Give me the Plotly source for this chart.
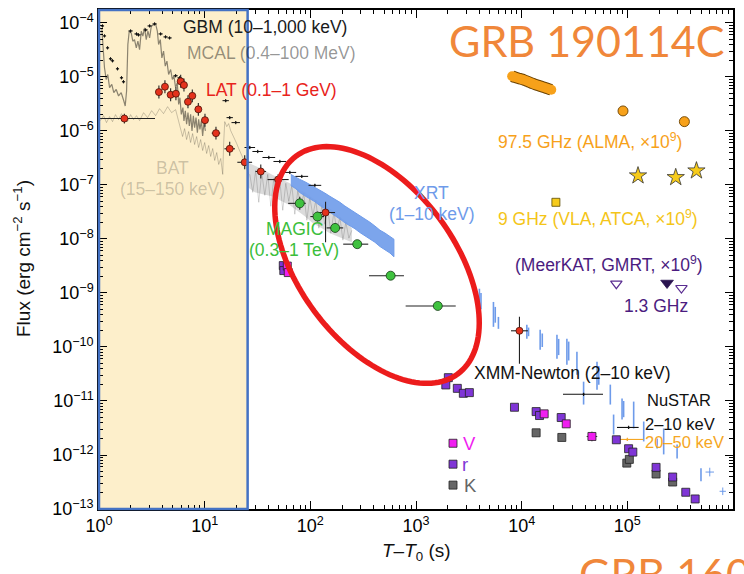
import numpy as np
import plotly.graph_objects as go

# ---------------------------------------------------------------------------
# Data (log10 of time in s and log10 of flux in erg cm^-2 s^-1)
# ---------------------------------------------------------------------------
# Fermi-GBM (10-1,000 keV) binned fluxes
gbm_lt = [0.033, 0.052, 0.081, 0.109, 0.128, 0.175, 0.213, 0.232, 0.299, 0.355,
          0.374, 0.441, 0.479, 0.526, 0.583, 0.630, 0.668, 0.725, 0.763, 1.199,
          1.237, 1.294, 1.427, 1.502, 1.607, 1.711, 1.806, 1.919, 2.043]
gbm_lf = [-4.055, -4.240, -4.461, -4.664, -4.701, -4.849, -5.015, -5.089, -4.148, -4.203,
          -4.221, -4.129, -4.055, -4.018, -4.203, -4.258, -4.277, -4.978, -5.015, -5.439,
          -5.753, -5.845, -6.306, -6.380, -6.491, -6.565, -6.768, -6.841, -7.007]
gbm_dt = [0.015] * 8 + [0.02] * 11 + [0.03, 0.03, 0.04, 0.05, 0.05, 0.06, 0.06, 0.06, 0.06, 0.06]

# AGILE-MCAL (0.4-100 MeV) light curve
mcal_lt = [0.027, 0.036, 0.052, 0.068, 0.083, 0.100, 0.121, 0.140, 0.163, 0.185,
           0.210, 0.235, 0.248, 0.261, 0.273, 0.286, 0.305, 0.320, 0.336, 0.353,
           0.368, 0.384, 0.400, 0.415, 0.431, 0.447, 0.463, 0.479, 0.495, 0.517,
           0.536, 0.552, 0.564, 0.580, 0.595, 0.611, 0.627, 0.643, 0.659, 0.678,
           0.694, 0.709, 0.725, 0.741, 0.754, 0.766, 0.779, 0.794, 0.804, 0.817,
           0.829, 0.842, 0.855, 0.867, 0.880, 0.893, 0.905, 0.918, 0.931, 0.943,
           0.955, 0.969, 0.981, 0.993, 1.007]
mcal_lf = [-4.105, -4.461, -4.830, -5.046, -4.954, -5.199, -5.138, -5.292, -5.231, -5.352,
           -5.292, -5.445, -5.537, -5.260, -4.400, -4.153, -4.185, -4.338, -4.308, -4.461,
           -4.338, -4.493, -4.153, -4.245, -4.092, -4.308, -4.153, -4.277, -4.061, -4.031,
           -4.018, -4.153, -4.400, -4.308, -4.646, -4.522, -4.799, -4.707, -4.954, -4.862,
           -5.046, -4.983, -5.199, -5.107, -5.507, -5.384, -5.692, -5.568, -5.814, -5.629,
           -5.876, -5.661, -5.906, -5.692, -5.998, -5.721, -5.937, -5.753, -6.030, -5.784,
           -5.969, -5.814, -6.090, -5.845, -5.998]

# Swift-BAT (15-150 keV) light curve
bat_lt = [0.014, 0.043, 0.071, 0.100, 0.128, 0.156, 0.185, 0.213, 0.242, 0.270,
          0.299, 0.327, 0.355, 0.384, 0.422, 0.460, 0.498, 0.536, 0.573, 0.611,
          0.649, 0.687, 0.725, 0.754, 0.773,
          0.791, 0.810, 0.829, 0.848, 0.867, 0.886, 0.905, 0.924, 0.943, 0.962,
          0.981, 1.000, 1.019, 1.038, 1.057, 1.076, 1.095, 1.114, 1.133, 1.152,
          1.161, 1.171, 1.180, 1.190, 1.209, 1.227, 1.246, 1.265, 1.284, 1.303,
          1.322, 1.341, 1.360, 1.379, 1.398, 1.417]
bat_lf = [-5.808, -5.716, -5.845, -5.734, -5.827, -5.697, -5.790, -5.679, -5.771, -5.827,
          -5.697, -5.790, -5.716, -5.808, -5.661, -5.753, -5.624, -5.716, -5.587, -5.679,
          -5.550, -5.661, -5.605, -5.808, -5.974,
          -6.103, -5.956, -6.159, -6.011, -6.214, -6.048, -6.251, -6.103, -6.306, -6.159,
          -6.362, -6.214, -6.417, -6.269, -6.472, -6.325, -6.546, -6.399, -6.620, -6.509,
          -6.731, -6.804, -6.214, -5.827, -5.919, -5.863, -5.993, -6.066, -6.159, -6.232,
          -6.325, -6.399, -6.491, -6.583, -6.694, -6.804]

# BAT after ~25 s: envelope of the noisy curve and its scatter
batband_lt = [1.408, 1.474, 1.550, 1.635, 1.711, 1.806, 1.872, 1.948, 2.024, 2.109,
              2.185, 2.261, 2.346, 2.393]
batband_hi = [-6.583, -6.638, -6.712, -6.804, -6.878, -6.970, -7.063, -7.137, -7.247, -7.339,
              -7.432, -7.561, -7.690, -7.801]
batband_lo = [-7.044, -7.137, -7.173, -7.210, -7.284, -7.376, -7.469, -7.579, -7.708, -7.801,
              -7.893, -7.948, -8.022, -8.059]
batnoise_lt = [1.427, 1.455, 1.483, 1.512, 1.540, 1.569, 1.597, 1.626, 1.654, 1.682,
               1.711, 1.739, 1.768, 1.796, 1.825, 1.853, 1.882, 1.910, 1.938, 1.967,
               1.995, 2.024, 2.052, 2.081, 2.109, 2.137, 2.166, 2.194, 2.223, 2.251,
               2.280, 2.308, 2.336, 2.365, 2.393]
batnoise_lf = [-6.804, -7.137, -6.731, -7.321, -6.768, -7.192, -6.804, -7.395, -6.878, -7.247,
               -6.915, -7.469, -6.970, -7.303, -7.007, -7.542, -7.100, -7.413, -7.155, -7.653,
               -7.229, -7.561, -7.284, -7.801, -7.376, -7.727, -7.450, -7.893, -7.506, -7.838,
               -7.598, -8.022, -7.690, -7.985, -7.838]

# Swift-XRT (1-10 keV): first orbit envelope
xrt_lt = [1.815, 1.863, 1.900, 1.948, 1.995, 2.043, 2.090, 2.137, 2.185, 2.232, 2.280,
          2.327, 2.374, 2.422, 2.469, 2.517, 2.564, 2.611, 2.659, 2.706, 2.754, 2.791]
xrt_hi = [-6.804, -6.860, -6.897, -6.940, -6.989, -7.040, -7.100, -7.150, -7.210, -7.260, -7.321,
          -7.390, -7.450, -7.500, -7.561, -7.630, -7.690, -7.760, -7.838, -7.890, -7.948, -8.004]
xrt_lo = [-7.010, -7.070, -7.140, -7.200, -7.260, -7.310, -7.380, -7.440, -7.510, -7.570, -7.630,
          -7.700, -7.760, -7.810, -7.880, -7.950, -8.000, -8.060, -8.140, -8.200, -8.260, -8.330]
# later XRT orbits (time, upper and lower flux of each bunch)
xrtl_t = [3.600, 3.615, 3.733, 3.750, 3.780, 4.049, 4.065, 4.175, 4.195, 4.334, 4.350,
          4.428, 4.445, 4.523, 4.586, 4.713, 4.730, 4.839, 4.870, 4.950, 4.965, 5.060,
          5.155, 5.282, 5.344, 5.471, 5.697]
xrtl_hi = [-8.921, -9.000, -9.166, -9.258, -9.443, -9.590, -9.640, -9.683, -9.750, -9.775, -9.850,
           -9.849, -9.900, -10.089, -10.642, -10.273, -10.350, -10.697, -11.251, -10.956, -11.000,
           -11.011, -11.380, -11.694, -11.509, -11.804, -12.247]
xrtl_lo = [-9.351, -9.300, -9.627, -9.550, -9.664, -9.849, -9.800, -10.052, -10.000, -10.218, -10.150,
           -10.328, -10.250, -10.513, -11.066, -10.790, -10.700, -11.066, -11.620, -11.343, -11.300,
           -11.509, -11.749, -11.878, -11.989, -12.063, -12.487]
xrtx_t = [5.780, 5.903]
xrtx_f = [-12.316, -12.672]

# Fermi-LAT (0.1-1 GeV)
lat_lt = [0.240, 0.567, 0.624, 0.678, 0.728, 0.773, 0.804, 0.842, 0.883, 0.940,
          1.003, 1.107, 1.237, 1.379, 1.531, 1.695, 2.144, 3.979]
lat_lf = [-5.77, -5.28, -5.18, -5.33, -5.31, -5.08, -5.15, -5.46, -5.35, -5.60,
          -5.80, -6.04, -6.33, -6.58, -6.75, -6.90, -7.51, -9.70]
lat_tlo = [0.24, 0.02, 0.02, 0.02, 0.02, 0.02, 0.02, 0.02, 0.02, 0.025,
           0.03, 0.04, 0.05, 0.07, 0.05, 0.10, 0.07, 0.08]
lat_thi = [0.29, 0.02, 0.02, 0.02, 0.02, 0.02, 0.02, 0.02, 0.02, 0.025,
           0.03, 0.04, 0.05, 0.07, 0.05, 0.10, 0.09, 0.08]
lat_flo = [0.09, 0.12, 0.12, 0.12, 0.12, 0.12, 0.12, 0.12, 0.12, 0.12,
           0.12, 0.12, 0.13, 0.13, 0.13, 0.10, 0.55, 0.61]
lat_fhi = [0.09, 0.12, 0.12, 0.12, 0.12, 0.12, 0.12, 0.12, 0.12, 0.12,
           0.12, 0.12, 0.13, 0.13, 0.13, 0.10, 0.20, 0.26]

# MAGIC (0.3-1 TeV)
magic_lt = [1.900, 2.068, 2.235, 2.444, 2.760, 3.206]
magic_lf = [-7.34, -7.585, -7.795, -8.096, -8.68, -9.24]
magic_tlo = [1.79, 2.00, 2.154, 2.311, 2.555, 2.902]
magic_thi = [1.957, 2.13, 2.311, 2.548, 2.886, 3.376]
magic_df = [0.12, 0.09, 0.08, 0.07, 0.07, 0.07]

# Optical / NIR photometry
v_lt = [1.782, 1.791, 4.213, 4.422, 4.665]
v_lf = [-8.502, -8.622, -11.238, -11.423, -11.657]
r_lt = [1.744, 1.749, 3.306, 3.282, 3.391, 3.448, 3.505, 3.932, 4.137, 4.169, 4.374,
        4.896, 5.012, 5.052, 5.272, 5.429, 5.553, 5.642]
r_lf = [-8.493, -8.585, -10.568, -10.703, -10.766, -10.858, -10.845, -11.116, -11.196, -11.269,
        -11.306, -11.718, -11.884, -11.946, -12.229, -12.408, -12.690, -12.814]
k_lt = [4.137, 4.380, 4.995, 5.019, 5.272, 5.429]
k_lf = [-11.589, -11.675, -12.150, -12.081, -12.352, -12.500]

# XMM-Newton and NuSTAR
xmm_lt, xmm_tlo, xmm_thi, xmm_lf = [4.586], [4.391], [4.770], [-10.876]
nus_lt, nus_tlo, nus_thi, nus_lf = [5.012], [4.902], [5.107], [-11.49]
nuh_lt, nuh_tlo, nuh_thi, nuh_lf = [5.000], [4.915], [5.152], [-11.712]

# Radio / mm (scaled by 1e9)
alma_lt = [3.910, 3.938, 3.967, 3.995, 4.024, 4.052, 4.081, 4.109, 4.137, 4.166,
           4.194, 4.223, 4.251, 4.280]
alma_lf = [-4.987, -5.006, -5.024, -5.039, -5.057, -5.079, -5.103, -5.125, -5.144, -5.162,
           -5.181, -5.199, -5.218, -5.236]
alma_late_lt, alma_late_lf = [4.959, 5.540], [-5.629, -5.827]
vla_lt, vla_lf = [4.324], [-7.321]
atca_lt, atca_lf = [5.101, 5.458, 5.654], [-6.828, -6.860, -6.736]
ghz13_open_lt, ghz13_open_lf = [4.896, 5.512], [-8.828, -8.908]
ghz13_fill_lt, ghz13_fill_lf = [5.376], [-8.815]

# ---------------------------------------------------------------------------
W, H = 744, 574
ML, MR, MT, MB = 99, 11, 8, 65
PW, PH = W - ML - MR, H - MT - MB
YMIN, YMAX = -13, -3.76
FONT = "Liberation Sans, Arial, sans-serif"


def lin(a):
    return 10 ** np.asarray(a, dtype=float)


def bounds_err(center, lo, hi):
    c = lin(center)
    return lin(hi) - c, c - lin(lo)


def dex_err(center, dm, dp):
    c = lin(center)
    return c * (10 ** np.asarray(dp, float) - 1), c * (1 - 10 ** -np.asarray(dm, float))


def pap(px, py):
    return (px - ML) / PW, 1 - (py - MT) / PH


fig = go.Figure()

# BAT curve
fig.add_trace(go.Scatter(x=lin(bat_lt), y=lin(bat_lf), mode="lines",
                         line=dict(color="rgba(0,0,0,0.2)", width=1)))
fig.add_trace(go.Scatter(x=np.concatenate([lin(batband_lt), lin(batband_lt)[::-1]]),
                         y=np.concatenate([lin(batband_hi), lin(batband_lo)[::-1]]),
                         mode="lines", fill="toself", fillcolor="rgba(0,0,0,0.14)",
                         line=dict(width=0)))
fig.add_trace(go.Scatter(x=lin(batnoise_lt), y=lin(batnoise_lf), mode="lines",
                         line=dict(color="rgba(0,0,0,0.16)", width=1)))
# MCAL curve
fig.add_trace(go.Scatter(x=lin(mcal_lt), y=lin(mcal_lf), mode="lines",
                         line=dict(color="rgba(0,0,0,0.45)", width=1.2)))
# XRT
XRT_C = "#6E9BEA"
fig.add_trace(go.Scatter(x=np.concatenate([lin(xrt_lt), lin(xrt_lt)[::-1]]),
                         y=np.concatenate([lin(xrt_hi), lin(xrt_lo)[::-1]]),
                         mode="lines", fill="toself", fillcolor="rgba(110,155,234,0.9)",
                         line=dict(color=XRT_C, width=1)))
seg_x, seg_y = [], []
for t, hi, lo in zip(xrtl_t, xrtl_hi, xrtl_lo):
    seg_x += [10 ** t, 10 ** t, None]
    seg_y += [10 ** hi, 10 ** lo, None]
fig.add_trace(go.Scatter(x=seg_x, y=seg_y, mode="lines", line=dict(color=XRT_C, width=1.6)))
ep, em = dex_err(xrtx_t, [0.04, 0.03], [0.04, 0.03])
fp, fm = dex_err(xrtx_f, [0.08, 0.07], [0.08, 0.07])
fig.add_trace(go.Scatter(x=lin(xrtx_t), y=lin(xrtx_f), mode="markers",
                         marker=dict(size=1, color=XRT_C),
                         error_x=dict(type="data", symmetric=False, array=ep, arrayminus=em,
                                      color=XRT_C, thickness=1, width=0),
                         error_y=dict(type="data", symmetric=False, array=fp, arrayminus=fm,
                                      color=XRT_C, thickness=1, width=0)))

# GBM
ep, em = dex_err(gbm_lt, gbm_dt, gbm_dt)
fp, fm = dex_err(gbm_lf, [0.03] * len(gbm_lf), [0.03] * len(gbm_lf))
fig.add_trace(go.Scatter(x=lin(gbm_lt), y=lin(gbm_lf), mode="markers",
                         marker=dict(size=2, color="#111"),
                         error_x=dict(type="data", symmetric=False, array=ep, arrayminus=em,
                                      color="#111", thickness=1, width=0),
                         error_y=dict(type="data", symmetric=False, array=fp, arrayminus=fm,
                                      color="#111", thickness=1, width=0)))

# LAT
ep, em = dex_err(lat_lt, lat_tlo, lat_thi)
fp, fm = dex_err(lat_lf, lat_flo, lat_fhi)
fig.add_trace(go.Scatter(x=lin(lat_lt), y=lin(lat_lf), mode="markers",
                         marker=dict(size=7, color="#E5321C", line=dict(color="#4a1208", width=0.8)),
                         error_x=dict(type="data", symmetric=False, array=ep, arrayminus=em,
                                      color="#222", thickness=1.1, width=0),
                         error_y=dict(type="data", symmetric=False, array=fp, arrayminus=fm,
                                      color="#222", thickness=1.1, width=0)))

# MAGIC
ep, em = bounds_err(magic_lt, magic_tlo, magic_thi)
fp, fm = dex_err(magic_lf, magic_df, magic_df)
fig.add_trace(go.Scatter(x=lin(magic_lt), y=lin(magic_lf), mode="markers",
                         marker=dict(size=9, color="#3FC23F", line=dict(color="#143a14", width=0.8)),
                         error_x=dict(type="data", symmetric=False, array=ep, arrayminus=em,
                                      color="#222", thickness=1.1, width=0),
                         error_y=dict(type="data", symmetric=False, array=fp, arrayminus=fm,
                                      color="#222", thickness=1.1, width=0)))

# XMM-Newton and NuSTAR
for lt, tlo, thi, lf, col in [(xmm_lt, xmm_tlo, xmm_thi, xmm_lf, "#111"),
                              (nus_lt, nus_tlo, nus_thi, nus_lf, "#111"),
                              (nuh_lt, nuh_tlo, nuh_thi, nuh_lf, "#F5A623")]:
    ep, em = bounds_err(lt, tlo, thi)
    fp, fm = dex_err(lf, [0.03], [0.03])
    fig.add_trace(go.Scatter(x=lin(lt), y=lin(lf), mode="markers",
                             marker=dict(size=2, color=col),
                             error_x=dict(type="data", symmetric=False, array=ep, arrayminus=em,
                                          color=col, thickness=1.1, width=0),
                             error_y=dict(type="data", symmetric=False, array=fp, arrayminus=fm,
                                          color=col, thickness=1.1, width=0)))

# Optical / NIR
V_C, R_C, K_C = "#F01EF0", "#7F35D6", "#666666"
fig.add_trace(go.Scatter(x=lin(k_lt), y=lin(k_lf), mode="markers",
                         marker=dict(symbol="square", size=8, color=K_C, line=dict(color="#222", width=0.8))))
fig.add_trace(go.Scatter(x=lin(r_lt), y=lin(r_lf), mode="markers",
                         marker=dict(symbol="square", size=8, color=R_C, line=dict(color="#222", width=0.8))))
vep, vem = dex_err(v_lt, [0, 0, 0, 0, 0.05], [0, 0, 0, 0, 0.05])
vfp, vfm = dex_err(v_lf, [0, 0, 0, 0.05, 0.09], [0, 0, 0, 0, 0.09])
fig.add_trace(go.Scatter(x=lin(v_lt), y=lin(v_lf), mode="markers",
                         marker=dict(symbol="square", size=8, color=V_C, line=dict(color="#222", width=0.8)),
                         error_x=dict(type="data", symmetric=False, array=vep, arrayminus=vem,
                                      color="#333", thickness=1, width=0),
                         error_y=dict(type="data", symmetric=False, array=vfp, arrayminus=vfm,
                                      color="#333", thickness=1, width=0)))

# Radio / mm
ALMA_C, VLA_C, MK_C = "#F7A11A", "#F6CB1B", "#5A2D91"
# dense early ALMA sampling drawn as a thick outlined track
fig.add_trace(go.Scatter(x=lin(alma_lt), y=lin(alma_lf), mode="lines",
                         line=dict(color="#6b4200", width=11.5, shape="spline")))
fig.add_trace(go.Scatter(x=lin(alma_lt), y=lin(alma_lf), mode="lines",
                         line=dict(color=ALMA_C, width=9.5, shape="spline")))
fig.add_trace(go.Scatter(x=lin([alma_lt[0], alma_lt[-1]]), y=lin([alma_lf[0], alma_lf[-1]]),
                         mode="markers", marker=dict(size=10, color=ALMA_C, line=dict(width=0))))
fig.add_trace(go.Scatter(x=lin(alma_late_lt), y=lin(alma_late_lf), mode="markers",
                         marker=dict(size=10, color=ALMA_C, line=dict(color="#6b4200", width=0.9))))
fig.add_trace(go.Scatter(x=lin(vla_lt), y=lin(vla_lf), mode="markers",
                         marker=dict(symbol="square", size=8, color=VLA_C, line=dict(color="#5a4a00", width=0.8))))
fig.add_trace(go.Scatter(x=lin(atca_lt), y=lin(atca_lf), mode="markers",
                         marker=dict(symbol="star", size=13, color=VLA_C, line=dict(color="#333", width=0.8))))
fig.add_trace(go.Scatter(x=lin(ghz13_open_lt), y=lin(ghz13_open_lf), mode="markers",
                         marker=dict(symbol="triangle-down", size=10, color="white",
                                     line=dict(color=MK_C, width=1.2))))
fig.add_trace(go.Scatter(x=lin(ghz13_fill_lt), y=lin(ghz13_fill_lf), mode="markers",
                         marker=dict(symbol="triangle-down", size=11, color="#2A1450",
                                     line=dict(color="#2A1450", width=0.8))))

# ---------------------------------------------------------------------------
# Prompt-phase window and the highlighted afterglow region
shapes = [
    dict(type="rect", xref="paper", yref="paper", x0=0, x1=np.log10(25.5) / 6, y0=0, y1=1,
         fillcolor="#FDEFCB", line=dict(width=0), layer="below"),
    dict(type="rect", xref="paper", yref="paper", x0=0, x1=np.log10(25.5) / 6, y0=0, y1=1,
         fillcolor="rgba(0,0,0,0)", line=dict(color="#4472C4", width=2.5), layer="above"),
]
tt = np.linspace(0, 2 * np.pi, 145)
cx, cy, ea, eb, th = 377, 264, 136, 78, np.deg2rad(53.6)
ex = cx + ea * np.cos(th) * np.cos(tt) - eb * np.sin(th) * np.sin(tt)
ey = cy + ea * np.sin(th) * np.cos(tt) + eb * np.cos(th) * np.sin(tt)
path = "M " + " L ".join(f"{(x - ML) / PW:.5f},{1 - (y - MT) / PH:.5f}" for x, y in zip(ex, ey)) + " Z"
shapes.append(dict(type="path", xref="paper", yref="paper", path=path,
                   line=dict(color="#EC1C1C", width=5.5), layer="above"))

# legend squares for the optical bands
for py, col in [(443, V_C), (464, R_C), (485, K_C)]:
    xa, ya = pap(453, py)
    shapes.append(dict(type="rect", xref="paper", yref="paper", xsizemode="pixel", ysizemode="pixel",
                       xanchor=xa, yanchor=ya, x0=-4, x1=4, y0=-4, y1=4,
                       fillcolor=col, line=dict(color="#222", width=0.8), layer="above"))

annotations = []


def label(text, px, py, color, size=17.5, anchor="left", family=FONT, angle=0):
    x, y = pap(px, py)
    annotations.append(dict(text=text, x=x, y=y, xref="paper", yref="paper", xanchor=anchor,
                            yanchor="middle", showarrow=False, textangle=angle,
                            font=dict(family=family, size=size, color=color)))


label("GBM (10–1,000 keV)", 181, 25, "#1a1a1a")
label("MCAL (0.4–100 MeV)", 185, 51, "rgba(0,0,0,0.42)")
label("LAT (0.1–1 GeV)", 204, 88, "#E8231B")
label("BAT", 172.5, 167, "rgba(0,0,0,0.2)", anchor="center")
label("(15–150 keV)", 172.5, 188, "rgba(0,0,0,0.2)", anchor="center")
label("XRT", 432, 192, XRT_C, anchor="center")
label("(1–10 keV)", 432, 213, XRT_C, anchor="center")
label("MAGIC", 294, 228, "#3BBE3B", anchor="center")
label("(0.3–1 TeV)", 294, 249, "#3BBE3B", anchor="center")
label("97.5 GHz (ALMA, ×10<sup>9</sup>)", 496, 140, ALMA_C)
label("9 GHz (VLA, ATCA, ×10<sup>9</sup>)", 496, 217, "#F4C518")
label("(MeerKAT, GMRT, ×10<sup>9</sup>)", 513, 263, "#4B1C80")
label("1.3 GHz", 622, 305, "#4B1C80")
label("XMM-Newton (2–10 keV)", 472, 372, "#111")
label("NuSTAR", 645, 400, "#111", size=16.5)
label("2–10 keV", 643, 424, "#111", size=16.5)
label("20–50 keV", 643, 442, "#F5A623", size=16.5)
label("V", 461, 443, V_C, size=18.5)
label("r", 460, 464, R_C, size=18.5)
label("K", 462, 485, K_C, size=18.5)
label("GRB 190114C", 447, 39, "#F0873A", size=43, family="Lato, Open Sans, sans-serif")
label("GRB 160821B", 577, 574, "#F0873A", size=43, family="Lato, Open Sans, sans-serif")
label("Flux (erg cm<sup>−2</sup> s<sup>−1</sup>)", 22, 258, "#111", size=19, anchor="center", angle=-90)
label("<i>T</i>–<i>T</i><sub>0</sub> (s)", 416, 552, "#111", size=19, anchor="center")

xt = [10.0 ** k for k in range(0, 7)]
yt = [10.0 ** k for k in range(-13, -3)]
minor_x = [m * 10.0 ** k for k in range(0, 6) for m in range(2, 10)]
minor_y = [m * 10.0 ** k for k in range(-13, -3) for m in range(2, 10)]

axis_common = dict(type="log", showgrid=False, zeroline=False, showline=True, linecolor="black",
                   linewidth=1.5, mirror="ticks", ticks="inside", ticklen=8, tickwidth=1.2,
                   tickcolor="black", tickfont=dict(family=FONT, size=18, color="black"))

fig.update_layout(
    width=W, height=H, margin=dict(l=ML, r=MR, t=MT, b=MB),
    paper_bgcolor="white", plot_bgcolor="white", showlegend=False,
    xaxis=dict(range=[0, 6], tickvals=xt, ticktext=[f"10<sup>{k}</sup>" for k in range(0, 7)],
               minor=dict(ticks="inside", ticklen=4, tickwidth=1, tickcolor="black", tickvals=minor_x),
               **axis_common),
    yaxis=dict(range=[YMIN, YMAX], tickvals=yt,
               ticktext=[f"10<sup>−{-k}</sup>" for k in range(-13, -3)],
               minor=dict(ticks="inside", ticklen=4, tickwidth=1, tickcolor="black", tickvals=minor_y),
               **axis_common),
    shapes=shapes, annotations=annotations,
)

fig.write_html("out.html")
